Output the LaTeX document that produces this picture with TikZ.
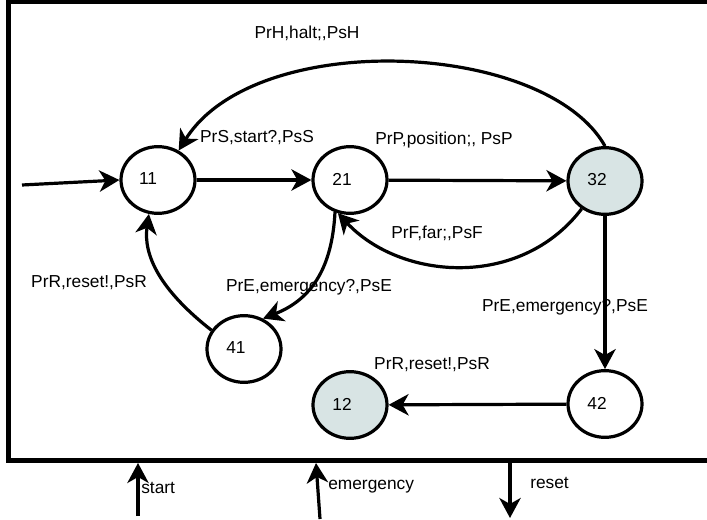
\documentclass[tikz,border=0pt]{standalone}
\usepackage{fontspec}
\setmainfont{Liberation Sans}
\usetikzlibrary{shapes.geometric,arrows.meta}
\definecolor{stfill}{RGB}{216,228,228}
\begin{document}
\begin{tikzpicture}[x=0.75pt,y=-0.75pt,
  st/.style={draw,ellipse,line width=2.4pt,minimum width=55.5pt,minimum height=50pt,inner sep=0pt,fill=white},
  acc/.style={st,fill=stfill},
  num/.style={font=\fontsize{13}{15}\selectfont,inner sep=0pt},
  lbl/.style={font=\fontsize{13}{15}\selectfont,inner sep=0pt},
  edge/.style={line width=2.4pt,-{Stealth[length=15pt,width=16pt,inset=4.5pt]}},
  frame/.style={line width=3.4pt}]
\path[use as bounding box] (0,0) rectangle (707,520);
% frame
\draw[frame] (707,1.5) -- (8.5,1.5) -- (8.5,460.5) -- (707,460.5);
% states
\node[st]  (n11) at (158,180) {};
\node[st]  (n21) at (350,180) {};
\node[acc] (n32) at (605,181) {};
\node[st]  (n41) at (244,349) {};
\node[acc] (n12) at (350,405) {};
\node[st]  (n42) at (605,404) {};
\node[num] (t11) at (148,179) {11};
\node[num] (t21) at (342,179) {21};
\node[num] (t32) at (597,180) {32};
\node[num] (t41) at (236,348) {41};
\node[num] (t12) at (342,404) {12};
\node[num] (t42) at (597,403) {42};
% transitions
\coordinate (init) at (22,185);
\draw[edge] (init) -- (n11.west);
\draw[edge] (n11) -- (n21);
\draw[edge] (n21) -- (n32);
\draw[edge] (n32.north) .. controls (545,40) and (255,28) .. (n11.55);
\draw[edge] (n32.230) .. controls (520,290) and (400,280) .. (n21.250);
\draw[edge] (n21.245) .. controls (332,270) and (310,300) .. (n41.58);
\draw[edge] (n41.150) .. controls (160,290) and (143,255) .. (n11.255);
\draw[edge] (n32) -- (n42);
\draw[edge] (n42) -- (n12);
% labels
\node[lbl] (lH) at (307,33) {PrH,halt;,PsH};
\node[lbl] (lS) at (257,138) {PrS,start?,PsS};
\node[lbl] (lP) at (444,140) {PrP,position;, PsP};
\node[lbl] (lF) at (437,233) {PrF,far;,PsF};
\node[lbl] (lE1) at (309,287) {PrE,emergency?,PsE};
\node[lbl] (lR1) at (89,283) {PrR,reset!,PsR};
\node[lbl] (lE2) at (565,307) {PrE,emergency?,PsE};
\node[lbl] (lR2) at (432,365) {PrR,reset!,PsR};
% interface
\coordinate (sA) at (138,516);
\coordinate (sB) at (138,463);
\coordinate (eA) at (320,519);
\coordinate (eB) at (316,463);
\coordinate (rA) at (510,462);
\coordinate (rB) at (510,518);
\draw[edge] (sA) -- (sB);
\draw[edge] (eA) -- (eB);
\draw[edge] (rA) -- (rB);
\node[lbl,anchor=west] (ls) at (141,488) {start};
\node[lbl,anchor=west] (le) at (328,487) {emergency};
\node[lbl,anchor=west] (lr) at (530,483) {reset};
\end{tikzpicture}
\end{document}
